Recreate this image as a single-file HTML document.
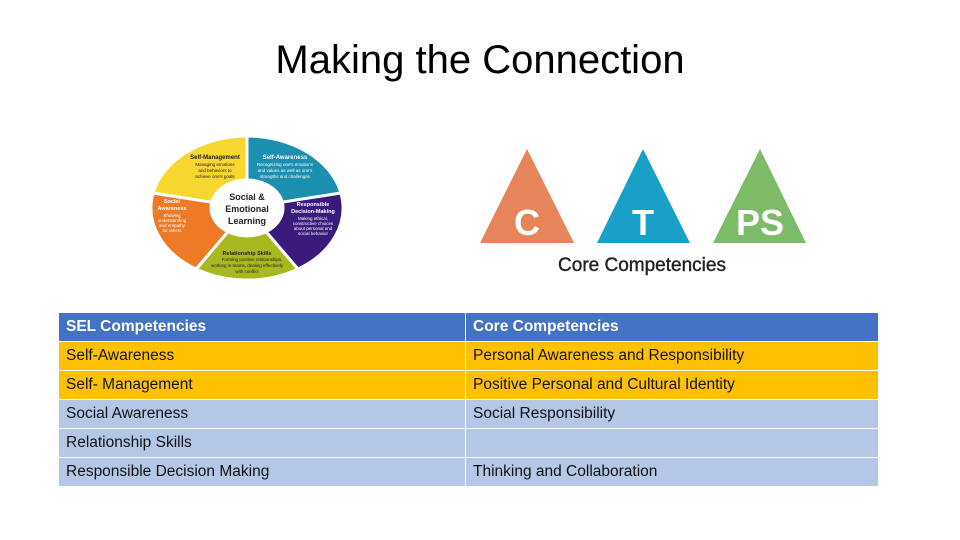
<!DOCTYPE html>
<html><head><meta charset="utf-8"><style>
body{margin:0;width:960px;height:540px;background:#fff;overflow:hidden;position:relative;font-family:"Liberation Sans",sans-serif}
.title{position:absolute;top:38px;left:0;width:960px;text-align:center;font-size:40px;color:#000}
table{position:absolute;left:58px;top:312px;width:821px;border-collapse:collapse;font-size:15.5px}
td{height:28px;padding:0 0 0 7px;border:1px solid #fff;color:#111}
td:first-child{width:399px}
tr.h td{background:#4472C4;color:#fff;font-weight:bold}
tr.o td{background:#FFC000}
tr.b td{background:#B4C7E7}
</style></head><body>
<div class="title">Making the Connection</div>
<svg width="960" height="300" style="position:absolute;left:0;top:0" font-family="Liberation Sans, sans-serif">
<g stroke="#fff" stroke-width="3">
<path d="M247,180 L247,136 A96,72 0 0 1 340.9,193 L282.2,202.2 A36,28 0 0 0 247,180Z" fill="#1A8FB0"/>
<path d="M282.2,202.2 L340.9,193 A96,72 0 0 1 297.9,269.1 L266.1,231.7 A36,28 0 0 0 282.2,202.2Z" fill="#3A1A7A"/>
<path d="M266.1,231.7 L297.9,269.1 A96,72 0 0 1 196.1,269.1 L227.9,231.7 A36,28 0 0 0 266.1,231.7Z" fill="#A8B820"/>
<path d="M227.9,231.7 L196.1,269.1 A96,72 0 0 1 153.1,193 L211.8,202.2 A36,28 0 0 0 227.9,231.7Z" fill="#EE7A28"/>
<path d="M211.8,202.2 L153.1,193 A96,72 0 0 1 247,136 L247,180 A36,28 0 0 0 211.8,202.2Z" fill="#F7D730"/>
</g>
<ellipse cx="247" cy="208" rx="35" ry="27" fill="#fff"/>
<g text-anchor="middle" font-weight="bold" font-size="9" fill="#222">
<text x="247" y="200">Social &amp;</text><text x="247" y="212">Emotional</text><text x="247" y="224">Learning</text></g>
<g text-anchor="middle" font-size="4.5" fill="#222">
<text x="215" y="159" font-weight="bold" font-size="6">Self-Management</text>
<text x="215" y="166">Managing emotions</text><text x="215" y="172">and behaviors to</text><text x="215" y="178">achieve one's goals</text>
<text x="172" y="203" font-weight="bold" font-size="5.5" fill="#fff">Social</text>
<text x="172" y="210" font-weight="bold" font-size="5.5" fill="#fff">Awareness</text>
<text x="172" y="217" fill="#fff">Showing</text><text x="172" y="222" fill="#fff">understanding</text><text x="172" y="227" fill="#fff">and empathy</text><text x="172" y="232" fill="#fff">for others</text>
<text x="247" y="255" font-weight="bold" font-size="5.5">Relationship Skills</text>
<text x="252" y="261">Forming positive relationships,</text><text x="247" y="267">working in teams, dealing effectively</text><text x="247" y="273">with conflict</text>
</g>
<g text-anchor="middle" font-size="4.5" fill="#fff">
<text x="285" y="159" font-weight="bold" font-size="6">Self-Awareness</text>
<text x="285" y="166">Recognizing one's emotions</text><text x="285" y="172">and values as well as one's</text><text x="285" y="178">strengths and challenges</text>
<text x="313" y="206" font-weight="bold" font-size="5.5">Responsible</text>
<text x="313" y="213" font-weight="bold" font-size="5.5">Decision-Making</text>
<text x="313" y="220">Making ethical,</text><text x="313" y="225">constructive choices</text><text x="313" y="230">about personal and</text><text x="313" y="235">social behavior</text>
</g>
<polygon points="527,149 480,243 574,243" fill="#E8845A"/>
<polygon points="643,149 597,243 690,243" fill="#18A0C8"/>
<polygon points="760,149 713,243 806,243" fill="#7DBB68"/>
<g fill="#fff" font-weight="bold" text-anchor="middle" font-size="36">
<text x="527" y="235">C</text><text x="643" y="235">T</text><text x="760" y="235">PS</text></g>
<text x="642" y="271" text-anchor="middle" font-size="19" fill="#222" stroke="#222" stroke-width="0.4">Core Competencies</text>
</svg>
<table>
<tr class="h"><td>SEL Competencies</td><td>Core Competencies</td></tr>
<tr class="o"><td>Self-Awareness</td><td>Personal Awareness and Responsibility</td></tr>
<tr class="o"><td>Self- Management</td><td>Positive Personal and Cultural Identity</td></tr>
<tr class="b"><td>Social Awareness</td><td>Social Responsibility</td></tr>
<tr class="b"><td>Relationship Skills</td><td></td></tr>
<tr class="b"><td>Responsible Decision Making</td><td>Thinking and Collaboration</td></tr>
</table>
</body></html>
